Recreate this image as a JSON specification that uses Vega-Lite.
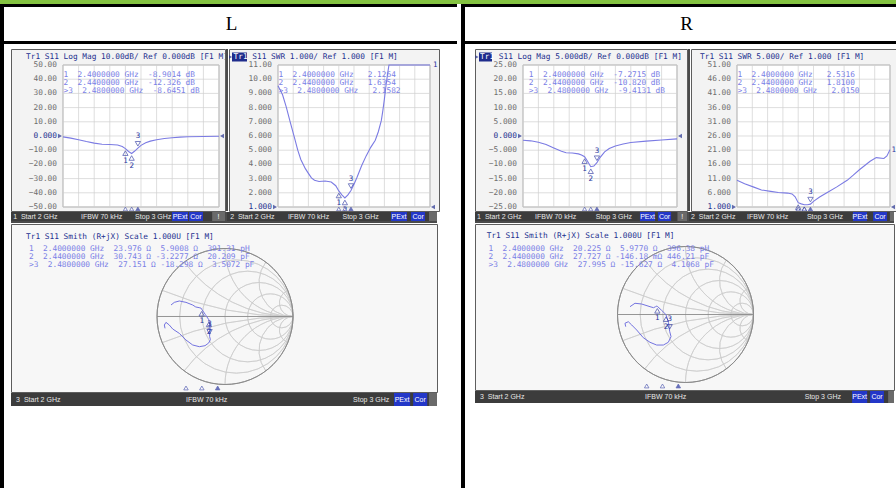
{
"$schema":"https://vega.github.io/schema/vega-lite/v6.json",
"padding":0,
"background":"#ffffff",
"config":{"view":{"stroke":null},"concat":{"spacing":0}},
"datasets":{
"one":[{}],
"fgrid":[{"f":2},{"f":2.1},{"f":2.2},{"f":2.3},{"f":2.4},{"f":2.5},{"f":2.6},{"f":2.7},{"f":2.8},{"f":2.9},{"f":3}],
"gLML":[{"g":-50},{"g":-40},{"g":-30},{"g":-20},{"g":-10},{"g":0},{"g":10},{"g":20},{"g":30},{"g":40},{"g":50}],
"gSWL":[{"g":1},{"g":2},{"g":3},{"g":4},{"g":5},{"g":6},{"g":7},{"g":8},{"g":9},{"g":10},{"g":11}],
"gLMR":[{"g":-25},{"g":-20},{"g":-15},{"g":-10},{"g":-5},{"g":0},{"g":5},{"g":10},{"g":15},{"g":20},{"g":25}],
"gSWR":[{"g":1},{"g":6},{"g":11},{"g":16},{"g":21},{"g":26},{"g":31},{"g":36},{"g":41},{"g":46},{"g":51}],
"lmL":[{"f":2.00,"v":-0.6},{"f":2.05,"v":-1.5},{"f":2.10,"v":-2.6},{"f":2.15,"v":-3.9},{"f":2.20,"v":-5.0},{"f":2.25,"v":-5.8},{"f":2.30,"v":-6.0},{"f":2.35,"v":-6.3},{"f":2.38,"v":-7.4},{"f":2.40,"v":-8.9},{"f":2.42,"v":-10.9},{"f":2.44,"v":-12.3},{"f":2.46,"v":-10.6},{"f":2.48,"v":-8.6},{"f":2.50,"v":-6.6},{"f":2.53,"v":-4.8},{"f":2.56,"v":-3.6},{"f":2.60,"v":-2.6},{"f":2.65,"v":-1.8},{"f":2.70,"v":-1.2},{"f":2.75,"v":-0.8},{"f":2.80,"v":-0.5},{"f":2.90,"v":-0.3},{"f":3.00,"v":-0.2}],
"lmLm":[{"m":1,"f":2.40,"v":-8.9014},{"m":2,"f":2.44,"v":-12.326},{"m":3,"f":2.48,"v":-8.6451}],
"swL":[{"f":2.00,"v":9.53},{"f":2.03,"v":8.9},{"f":2.055,"v":8.02},{"f":2.08,"v":7.0},{"f":2.11,"v":5.82},{"f":2.13,"v":5.0},{"f":2.15,"v":4.35},{"f":2.18,"v":3.7},{"f":2.20,"v":3.37},{"f":2.22,"v":3.05},{"f":2.24,"v":2.88},{"f":2.27,"v":2.8},{"f":2.31,"v":2.83},{"f":2.35,"v":2.76},{"f":2.38,"v":2.5},{"f":2.40,"v":2.13},{"f":2.42,"v":1.85},{"f":2.44,"v":1.64},{"f":2.46,"v":1.85},{"f":2.48,"v":2.16},{"f":2.50,"v":2.6},{"f":2.52,"v":3.1},{"f":2.55,"v":3.9},{"f":2.58,"v":4.6},{"f":2.61,"v":5.2},{"f":2.64,"v":5.7},{"f":2.66,"v":6.3},{"f":2.68,"v":7.1},{"f":2.69,"v":7.8},{"f":2.70,"v":8.6},{"f":2.71,"v":9.5},{"f":2.72,"v":10.3},{"f":2.73,"v":11.0},{"f":2.85,"v":11.0},{"f":3.00,"v":11.0}],
"swLm":[{"m":1,"f":2.40,"v":2.1264},{"m":2,"f":2.44,"v":1.6354},{"m":3,"f":2.48,"v":2.1582}],
"lmR":[{"f":2.00,"v":-1.5},{"f":2.05,"v":-1.7},{"f":2.10,"v":-2.2},{"f":2.15,"v":-3.0},{"f":2.20,"v":-4.2},{"f":2.25,"v":-5.4},{"f":2.28,"v":-5.9},{"f":2.32,"v":-6.0},{"f":2.36,"v":-6.3},{"f":2.38,"v":-6.7},{"f":2.40,"v":-7.3},{"f":2.42,"v":-9.0},{"f":2.44,"v":-10.8},{"f":2.46,"v":-10.6},{"f":2.48,"v":-9.4},{"f":2.50,"v":-7.6},{"f":2.53,"v":-5.6},{"f":2.56,"v":-4.4},{"f":2.60,"v":-3.5},{"f":2.65,"v":-2.8},{"f":2.70,"v":-2.3},{"f":2.80,"v":-1.8},{"f":2.90,"v":-1.4},{"f":3.00,"v":-1.0}],
"lmRm":[{"m":1,"f":2.40,"v":-7.2715},{"m":2,"f":2.44,"v":-10.82},{"m":3,"f":2.48,"v":-9.4131}],
"swR":[{"f":2.00,"v":10.4},{"f":2.05,"v":9.2},{"f":2.11,"v":8.0},{"f":2.16,"v":7.0},{"f":2.22,"v":6.5},{"f":2.27,"v":6.1},{"f":2.33,"v":5.9},{"f":2.36,"v":5.6},{"f":2.38,"v":4.6},{"f":2.40,"v":2.53},{"f":2.42,"v":2.1},{"f":2.44,"v":1.81},{"f":2.46,"v":1.8},{"f":2.48,"v":2.015},{"f":2.50,"v":3.0},{"f":2.54,"v":4.5},{"f":2.59,"v":6.1},{"f":2.65,"v":8.0},{"f":2.72,"v":10.4},{"f":2.76,"v":12.2},{"f":2.80,"v":14.1},{"f":2.87,"v":17.1},{"f":2.91,"v":18.4},{"f":2.96,"v":18.1},{"f":2.98,"v":19.0},{"f":3.00,"v":21.2}],
"swRm":[{"m":1,"f":2.40,"v":2.5316},{"m":2,"f":2.44,"v":1.81},{"m":3,"f":2.48,"v":2.015}],
"smL":[{"f":2.00,"re":-0.794,"im":0.169},{"f":2.05,"re":-0.745,"im":0.208},{"f":2.10,"re":-0.672,"im":0.228},{"f":2.15,"re":-0.574,"im":0.208},{"f":2.22,"re":-0.475,"im":0.169},{"f":2.28,"re":-0.43,"im":0.14},{"f":2.34,"re":-0.38,"im":0.13},{"f":2.38,"re":-0.355,"im":0.125},{"f":2.40,"re":-0.343,"im":0.107},{"f":2.42,"re":-0.29,"im":0.03},{"f":2.44,"re":-0.237,"im":-0.049},{"f":2.46,"re":-0.22,"im":-0.17},{"f":2.48,"re":-0.227,"im":-0.291},{"f":2.52,"re":-0.215,"im":-0.34},{"f":2.56,"re":-0.24,"im":-0.39},{"f":2.60,"re":-0.294,"im":-0.429},{"f":2.65,"re":-0.377,"im":-0.444},{"f":2.70,"re":-0.475,"im":-0.419},{"f":2.76,"re":-0.574,"im":-0.346},{"f":2.82,"re":-0.672,"im":-0.248},{"f":2.88,"re":-0.769,"im":-0.184},{"f":2.92,"re":-0.819,"im":-0.125},{"f":2.95,"re":-0.868,"im":-0.086},{"f":2.98,"re":-0.892,"im":-0.125},{"f":3.00,"re":-0.882,"im":-0.174}],
"smLm":[{"m":1,"f":2.40,"re":-0.3433,"im":0.1071},{"m":2,"f":2.44,"re":-0.2365,"im":-0.0494},{"m":3,"f":2.48,"re":-0.2271,"im":-0.291}],
"smR":[{"f":2.00,"re":-0.816,"im":0.115},{"f":2.05,"re":-0.743,"im":0.165},{"f":2.10,"re":-0.644,"im":0.154},{"f":2.18,"re":-0.522,"im":0.115},{"f":2.26,"re":-0.47,"im":0.1},{"f":2.34,"re":-0.44,"im":0.115},{"f":2.38,"re":-0.42,"im":0.125},{"f":2.40,"re":-0.414,"im":0.12},{"f":2.42,"re":-0.35,"im":0.06},{"f":2.44,"re":-0.287,"im":-0.002},{"f":2.46,"re":-0.25,"im":-0.12},{"f":2.48,"re":-0.233,"im":-0.247},{"f":2.52,"re":-0.213,"im":-0.326},{"f":2.56,"re":-0.253,"im":-0.409},{"f":2.60,"re":-0.326,"im":-0.449},{"f":2.66,"re":-0.424,"im":-0.449},{"f":2.72,"re":-0.522,"im":-0.409},{"f":2.78,"re":-0.621,"im":-0.341},{"f":2.84,"re":-0.718,"im":-0.228},{"f":2.90,"re":-0.791,"im":-0.154},{"f":2.94,"re":-0.841,"im":-0.106},{"f":2.97,"re":-0.89,"im":-0.129},{"f":3.00,"re":-0.879,"im":-0.179}],
"smRm":[{"m":1,"f":2.40,"re":-0.4138,"im":0.1203},{"m":2,"f":2.44,"re":-0.2866,"im":-0.0024},{"m":3,"f":2.48,"re":-0.2327,"im":-0.247}],
"smithGrid":[{"cx":0,"cy":0,"R":1,"t0":0,"t1":6.2832},{"cx":0.16667,"cy":0,"R":0.83333,"t0":0,"t1":6.2832},{"cx":0.33333,"cy":0,"R":0.66667,"t0":0,"t1":6.2832},{"cx":0.5,"cy":0,"R":0.5,"t0":0,"t1":6.2832},{"cx":0.66667,"cy":0,"R":0.33333,"t0":0,"t1":6.2832},{"cx":0.83333,"cy":0,"R":0.16667,"t0":0,"t1":6.2832},{"cx":1,"cy":5,"R":5,"t0":3.14159,"t1":3.53638},{"cx":1,"cy":2,"R":2,"t0":3.14159,"t1":4.06889},{"cx":1,"cy":1,"R":1,"t0":3.14159,"t1":4.71239},{"cx":1,"cy":0.5,"R":0.5,"t0":3.14159,"t1":5.35589},{"cx":1,"cy":0.2,"R":0.2,"t0":3.14159,"t1":5.88839},{"cx":1,"cy":-5,"R":5,"t0":5.8884,"t1":6.28319},{"cx":1,"cy":-2,"R":2,"t0":5.35589,"t1":6.28319},{"cx":1,"cy":-1,"R":1,"t0":4.71239,"t1":6.28319},{"cx":1,"cy":-0.5,"R":0.5,"t0":4.06889,"t1":6.28319},{"cx":1,"cy":-0.2,"R":0.2,"t0":3.53638,"t1":6.28319}]
},
"spacing":0,
"vconcat":[
{"width":896,"height":4,"view":{"fill":"#84c341"},"data":{"name":"one"},"mark":{"type":"rect","color":"#84c341"}},
{"spacing":0,"hconcat":[
{"width":4,"height":484,"view":{"fill":"#000000"},"data":{"name":"one"},"mark":{"type":"rect","color":"#000000"}},
{"spacing":0,"vconcat":[
{"width":453,"height":3,"view":{"fill":"#000000"},"data":{"name":"one"},"mark":{"type":"rect","color":"#000000"}},
{"width":453,"height":34,"data":{"name":"one"},"mark":{"type":"text","text":"L","font":"Liberation Serif","fontSize":19,"color":"#000000","dx":1}},
{"width":453,"height":3,"view":{"fill":"#000000"},"data":{"name":"one"},"mark":{"type":"rect","color":"#000000"}},
{"width":453,"height":4,"data":{"name":"one"},"mark":{"type":"rect","opacity":0}},
{"spacing":0,"hconcat":[
{"width":6,"height":1,"data":{"name":"one"},"mark":{"type":"rect","opacity":0}},
{"spacing":0,"vconcat":[
{"spacing":0,"hconcat":[
{"width":214,"height":162,"view":{"fill":"#f3f3f3","stroke":"#5e5e5e","strokeWidth":1},
"layer":[
{"data":{"name":"one"},"mark":{"type":"rect","fill":"#ffffff","stroke":"#9c9c9c","strokeWidth":0.8},"encoding":{"x":{"datum":2,"type":"quantitative","scale":{"domain":[1.66667,3.03846],"nice":false,"zero":false},"axis":null},"x2":{"datum":3},"y":{"datum":-50,"type":"quantitative","scale":{"domain":[-52.817,61.268],"nice":false,"zero":false},"axis":null},"y2":{"datum":50}}},
{"data":{"name":"fgrid"},"mark":{"type":"rule","color":"#d0d0d0","strokeWidth":0.7},"encoding":{"x":{"field":"f","type":"quantitative","scale":{"domain":[1.66667,3.03846],"nice":false,"zero":false},"axis":null},"y":{"datum":-50,"type":"quantitative","scale":{"domain":[-52.817,61.268],"nice":false,"zero":false},"axis":null},"y2":{"datum":50}}},
{"data":{"name":"gLML"},"mark":{"type":"rule","color":"#d0d0d0","strokeWidth":0.7},"encoding":{"y":{"field":"g","type":"quantitative","scale":{"domain":[-52.817,61.268],"nice":false,"zero":false},"axis":null},"x":{"datum":2,"type":"quantitative","scale":{"domain":[1.66667,3.03846],"nice":false,"zero":false},"axis":null},"x2":{"datum":3}}},
{"data":{"name":"gLML"},"mark":{"type":"text","align":"right","baseline":"middle","dx":-6,"font":"DejaVu Sans Mono","fontSize":7.8},"encoding":{"y":{"field":"g","type":"quantitative","scale":{"domain":[-52.817,61.268],"nice":false,"zero":false},"axis":null},"x":{"datum":2,"type":"quantitative","scale":{"domain":[1.66667,3.03846],"nice":false,"zero":false},"axis":null},"text":{"condition":{"test":"datum.g == 0","value":"0.000"},"field":"g","type":"quantitative","format":".4r"},"color":{"condition":{"test":"datum.g == 0","value":"#24308f"},"value":"#6e6e6e"}}},
{"data":{"name":"lmL"},"mark":{"type":"line","color":"#7b7be3","strokeWidth":1.1,"clip":true},"encoding":{"x":{"field":"f","type":"quantitative","scale":{"domain":[1.66667,3.03846],"nice":false,"zero":false},"axis":null},"y":{"field":"v","type":"quantitative","scale":{"domain":[-52.817,61.268],"nice":false,"zero":false},"axis":null}}},
{"data":{"name":"lmLm"},"transform":[{"filter":"datum.m < 3"}],"mark":{"type":"point","shape":"triangle-up","filled":false,"color":"#2a36a0","size":28,"strokeWidth":0.9,"yOffset":4.5,"clip":true},"encoding":{"x":{"field":"f","type":"quantitative","scale":{"domain":[1.66667,3.03846],"nice":false,"zero":false},"axis":null},"y":{"field":"v","type":"quantitative","scale":{"domain":[-52.817,61.268],"nice":false,"zero":false},"axis":null}}},
{"data":{"name":"lmLm"},"transform":[{"filter":"datum.m < 3"}],"mark":{"type":"text","font":"DejaVu Sans Mono","fontSize":7.5,"color":"#2a36a0","dy":12,"clip":true},"encoding":{"x":{"field":"f","type":"quantitative","scale":{"domain":[1.66667,3.03846],"nice":false,"zero":false},"axis":null},"y":{"field":"v","type":"quantitative","scale":{"domain":[-52.817,61.268],"nice":false,"zero":false},"axis":null},"text":{"field":"m","type":"nominal"}}},
{"data":{"name":"lmLm"},"transform":[{"filter":"datum.m == 3"}],"mark":{"type":"point","shape":"triangle-down","filled":false,"color":"#2a36a0","size":28,"strokeWidth":0.9,"yOffset":-4.5,"clip":true},"encoding":{"x":{"field":"f","type":"quantitative","scale":{"domain":[1.66667,3.03846],"nice":false,"zero":false},"axis":null},"y":{"field":"v","type":"quantitative","scale":{"domain":[-52.817,61.268],"nice":false,"zero":false},"axis":null}}},
{"data":{"name":"lmLm"},"transform":[{"filter":"datum.m == 3"}],"mark":{"type":"text","font":"DejaVu Sans Mono","fontSize":7.5,"color":"#2a36a0","dy":-12,"clip":true},"encoding":{"x":{"field":"f","type":"quantitative","scale":{"domain":[1.66667,3.03846],"nice":false,"zero":false},"axis":null},"y":{"field":"v","type":"quantitative","scale":{"domain":[-52.817,61.268],"nice":false,"zero":false},"axis":null},"text":{"field":"m","type":"nominal"}}},
{"data":{"name":"lmLm"},"mark":{"type":"point","shape":"triangle-up","size":18,"stroke":"#2a36a0","strokeWidth":0.8,"filled":true,"clip":true},"encoding":{"x":{"field":"f","type":"quantitative","scale":{"domain":[1.66667,3.03846],"nice":false,"zero":false},"axis":null},"y":{"datum":-51.408,"type":"quantitative","scale":{"domain":[-52.817,61.268],"nice":false,"zero":false},"axis":null},"fill":{"condition":{"test":"datum.m == 3","value":"#2a36a0"},"value":"#ffffff"}}},
{"data":{"name":"one"},"mark":{"type":"point","shape":"triangle-right","filled":true,"color":"#24308f","size":22,"xOffset":-3,"clip":true},"encoding":{"x":{"datum":2,"type":"quantitative","scale":{"domain":[1.66667,3.03846],"nice":false,"zero":false},"axis":null},"y":{"datum":0,"type":"quantitative","scale":{"domain":[-52.817,61.268],"nice":false,"zero":false},"axis":null}}},
{"data":{"name":"one"},"mark":{"type":"point","shape":"triangle-left","filled":true,"color":"#24308f","size":22,"xOffset":3,"clip":true},"encoding":{"x":{"datum":3,"type":"quantitative","scale":{"domain":[1.66667,3.03846],"nice":false,"zero":false},"axis":null},"y":{"datum":0,"type":"quantitative","scale":{"domain":[-52.817,61.268],"nice":false,"zero":false},"axis":null}}},
{"data":{"name":"one"},"mark":{"type":"text","text":"Tr1 S11 Log Mag 10.00dB/ Ref 0.000dB [F1 M]","align":"left","baseline":"middle","font":"DejaVu Sans Mono","fontSize":7.8,"color":"#24308f","clip":true},"encoding":{"x":{"datum":1.7628,"type":"quantitative","scale":{"domain":[1.66667,3.03846],"nice":false,"zero":false},"axis":null},"y":{"datum":55.634,"type":"quantitative","scale":{"domain":[-52.817,61.268],"nice":false,"zero":false},"axis":null}}},
{"data":{"name":"one"},"mark":{"type":"text","text":["\u00a01\u00a0\u00a02.4000000\u00a0GHz\u00a0\u00a0-8.9014\u00a0dB","\u00a02\u00a0\u00a02.4400000\u00a0GHz\u00a0\u00a0-12.326\u00a0dB",">3\u00a0\u00a02.4800000\u00a0GHz\u00a0\u00a0-8.6451\u00a0dB"],"align":"left","baseline":"top","lineHeight":8,"font":"DejaVu Sans Mono","fontSize":7.8,"color":"#7a80e6","clip":true},"encoding":{"x":{"datum":2.003,"type":"quantitative","scale":{"domain":[1.66667,3.03846],"nice":false,"zero":false},"axis":null},"y":{"datum":46.127,"type":"quantitative","scale":{"domain":[-52.817,61.268],"nice":false,"zero":false},"axis":null}}}
]},
{"width":2,"height":162,"view":{"fill":"#4a4a4a"},"data":{"name":"one"},"mark":{"type":"rect","color":"#4a4a4a"}},
{"width":210,"height":162,"view":{"fill":"#f3f3f3","stroke":"#5e5e5e","strokeWidth":1},
"layer":[
{"data":{"name":"one"},"mark":{"type":"rect","fill":"#ffffff","stroke":"#9c9c9c","strokeWidth":0.8},"encoding":{"x":{"datum":2,"type":"quantitative","scale":{"domain":[1.67763,3.05921],"nice":false,"zero":false},"axis":null},"x2":{"datum":3},"y":{"datum":1,"type":"quantitative","scale":{"domain":[0.71831,12.1268],"nice":false,"zero":false},"axis":null},"y2":{"datum":11}}},
{"data":{"name":"fgrid"},"mark":{"type":"rule","color":"#d0d0d0","strokeWidth":0.7},"encoding":{"x":{"field":"f","type":"quantitative","scale":{"domain":[1.67763,3.05921],"nice":false,"zero":false},"axis":null},"y":{"datum":1,"type":"quantitative","scale":{"domain":[0.71831,12.1268],"nice":false,"zero":false},"axis":null},"y2":{"datum":11}}},
{"data":{"name":"gSWL"},"mark":{"type":"rule","color":"#d0d0d0","strokeWidth":0.7},"encoding":{"y":{"field":"g","type":"quantitative","scale":{"domain":[0.71831,12.1268],"nice":false,"zero":false},"axis":null},"x":{"datum":2,"type":"quantitative","scale":{"domain":[1.67763,3.05921],"nice":false,"zero":false},"axis":null},"x2":{"datum":3}}},
{"data":{"name":"gSWL"},"mark":{"type":"text","align":"right","baseline":"middle","dx":-6,"font":"DejaVu Sans Mono","fontSize":7.8},"encoding":{"y":{"field":"g","type":"quantitative","scale":{"domain":[0.71831,12.1268],"nice":false,"zero":false},"axis":null},"x":{"datum":2,"type":"quantitative","scale":{"domain":[1.67763,3.05921],"nice":false,"zero":false},"axis":null},"text":{"field":"g","type":"quantitative","format":".4r"},"color":{"condition":{"test":"datum.g == 1","value":"#24308f"},"value":"#6e6e6e"}}},
{"data":{"name":"swL"},"mark":{"type":"line","color":"#7b7be3","strokeWidth":1.1,"clip":true},"encoding":{"x":{"field":"f","type":"quantitative","scale":{"domain":[1.67763,3.05921],"nice":false,"zero":false},"axis":null},"y":{"field":"v","type":"quantitative","scale":{"domain":[0.71831,12.1268],"nice":false,"zero":false},"axis":null}}},
{"data":{"name":"swLm"},"transform":[{"filter":"datum.m < 3"}],"mark":{"type":"point","shape":"triangle-up","filled":false,"color":"#2a36a0","size":28,"strokeWidth":0.9,"yOffset":4.5,"clip":true},"encoding":{"x":{"field":"f","type":"quantitative","scale":{"domain":[1.67763,3.05921],"nice":false,"zero":false},"axis":null},"y":{"field":"v","type":"quantitative","scale":{"domain":[0.71831,12.1268],"nice":false,"zero":false},"axis":null}}},
{"data":{"name":"swLm"},"transform":[{"filter":"datum.m < 3"}],"mark":{"type":"text","font":"DejaVu Sans Mono","fontSize":7.5,"color":"#2a36a0","dy":12,"clip":true},"encoding":{"x":{"field":"f","type":"quantitative","scale":{"domain":[1.67763,3.05921],"nice":false,"zero":false},"axis":null},"y":{"field":"v","type":"quantitative","scale":{"domain":[0.71831,12.1268],"nice":false,"zero":false},"axis":null},"text":{"field":"m","type":"nominal"}}},
{"data":{"name":"swLm"},"transform":[{"filter":"datum.m == 3"}],"mark":{"type":"point","shape":"triangle-down","filled":false,"color":"#2a36a0","size":28,"strokeWidth":0.9,"yOffset":-4.5,"clip":true},"encoding":{"x":{"field":"f","type":"quantitative","scale":{"domain":[1.67763,3.05921],"nice":false,"zero":false},"axis":null},"y":{"field":"v","type":"quantitative","scale":{"domain":[0.71831,12.1268],"nice":false,"zero":false},"axis":null}}},
{"data":{"name":"swLm"},"transform":[{"filter":"datum.m == 3"}],"mark":{"type":"text","font":"DejaVu Sans Mono","fontSize":7.5,"color":"#2a36a0","dy":-12,"clip":true},"encoding":{"x":{"field":"f","type":"quantitative","scale":{"domain":[1.67763,3.05921],"nice":false,"zero":false},"axis":null},"y":{"field":"v","type":"quantitative","scale":{"domain":[0.71831,12.1268],"nice":false,"zero":false},"axis":null},"text":{"field":"m","type":"nominal"}}},
{"data":{"name":"swLm"},"mark":{"type":"point","shape":"triangle-up","size":18,"stroke":"#2a36a0","strokeWidth":0.8,"filled":true,"clip":true},"encoding":{"x":{"field":"f","type":"quantitative","scale":{"domain":[1.67763,3.05921],"nice":false,"zero":false},"axis":null},"y":{"datum":0.8592,"type":"quantitative","scale":{"domain":[0.71831,12.1268],"nice":false,"zero":false},"axis":null},"fill":{"condition":{"test":"datum.m == 3","value":"#2a36a0"},"value":"#ffffff"}}},
{"data":{"name":"one"},"mark":{"type":"point","shape":"triangle-right","filled":true,"color":"#24308f","size":22,"xOffset":-3,"clip":true},"encoding":{"x":{"datum":2,"type":"quantitative","scale":{"domain":[1.67763,3.05921],"nice":false,"zero":false},"axis":null},"y":{"datum":1,"type":"quantitative","scale":{"domain":[0.71831,12.1268],"nice":false,"zero":false},"axis":null}}},
{"data":{"name":"one"},"mark":{"type":"point","shape":"triangle-left","filled":true,"color":"#24308f","size":22,"xOffset":3,"clip":true},"encoding":{"x":{"datum":3,"type":"quantitative","scale":{"domain":[1.67763,3.05921],"nice":false,"zero":false},"axis":null},"y":{"datum":1,"type":"quantitative","scale":{"domain":[0.71831,12.1268],"nice":false,"zero":false},"axis":null}}},
{"data":{"name":"one"},"mark":{"type":"text","text":"1","align":"left","baseline":"middle","font":"DejaVu Sans Mono","fontSize":7.5,"color":"#2a36a0","dx":3,"clip":true},"encoding":{"x":{"datum":3,"type":"quantitative","scale":{"domain":[1.67763,3.05921],"nice":false,"zero":false},"axis":null},"y":{"datum":11,"type":"quantitative","scale":{"domain":[0.71831,12.1268],"nice":false,"zero":false},"axis":null}}},
{"data":{"name":"one"},"mark":{"type":"rect","color":"#1f2c8c"},"encoding":{"x":{"datum":1.69737,"type":"quantitative","scale":{"domain":[1.67763,3.05921],"nice":false,"zero":false},"axis":null},"x2":{"datum":1.79605},"y":{"datum":11.2465,"type":"quantitative","scale":{"domain":[0.71831,12.1268],"nice":false,"zero":false},"axis":null},"y2":{"datum":11.8803}}},
{"data":{"name":"one"},"mark":{"type":"point","shape":"triangle-right","filled":true,"color":"#1f2c8c","size":14,"clip":true},"encoding":{"x":{"datum":1.6875,"type":"quantitative","scale":{"domain":[1.67763,3.05921],"nice":false,"zero":false},"axis":null},"y":{"datum":11.5634,"type":"quantitative","scale":{"domain":[0.71831,12.1268],"nice":false,"zero":false},"axis":null}}},
{"data":{"name":"one"},"mark":{"type":"text","text":"Tr1","align":"left","baseline":"middle","font":"DejaVu Sans Mono","fontSize":7.8,"color":"#ffffff","clip":true},"encoding":{"x":{"datum":1.70724,"type":"quantitative","scale":{"domain":[1.67763,3.05921],"nice":false,"zero":false},"axis":null},"y":{"datum":11.5634,"type":"quantitative","scale":{"domain":[0.71831,12.1268],"nice":false,"zero":false},"axis":null}}},
{"data":{"name":"one"},"mark":{"type":"text","text":"S11 SWR 1.000/ Ref 1.000 [F1 M]","align":"left","baseline":"middle","font":"DejaVu Sans Mono","fontSize":7.8,"color":"#24308f","clip":true},"encoding":{"x":{"datum":1.83092,"type":"quantitative","scale":{"domain":[1.67763,3.05921],"nice":false,"zero":false},"axis":null},"y":{"datum":11.5634,"type":"quantitative","scale":{"domain":[0.71831,12.1268],"nice":false,"zero":false},"axis":null}}},
{"data":{"name":"one"},"mark":{"type":"text","text":["\u00a01\u00a0\u00a02.4000000\u00a0GHz\u00a0\u00a0\u00a02.1264","\u00a02\u00a0\u00a02.4400000\u00a0GHz\u00a0\u00a0\u00a01.6354",">3\u00a0\u00a02.4800000\u00a0GHz\u00a0\u00a0\u00a02.1582"],"align":"left","baseline":"top","lineHeight":8,"font":"DejaVu Sans Mono","fontSize":7.8,"color":"#7a80e6","clip":true},"encoding":{"x":{"datum":2.0033,"type":"quantitative","scale":{"domain":[1.67763,3.05921],"nice":false,"zero":false},"axis":null},"y":{"datum":10.6127,"type":"quantitative","scale":{"domain":[0.71831,12.1268],"nice":false,"zero":false},"axis":null}}}
]}
]},
{"spacing":0,"hconcat":[
{"width":214,"height":9,"view":{"fill":"#3c3c3c"},"data":{"name":"one"},"layer":[
{"mark":{"type":"rect","color":"#2337c8"},"encoding":{"x":{"datum":0.752,"type":"quantitative","scale":{"domain":[0,1],"nice":false,"zero":false},"axis":null},"x2":{"datum":0.827}}},
{"mark":{"type":"rect","color":"#2337c8"},"encoding":{"x":{"datum":0.832,"type":"quantitative","scale":{"domain":[0,1],"nice":false,"zero":false},"axis":null},"x2":{"datum":0.897}}},
{"mark":{"type":"rect","color":"#6a6a6a"},"encoding":{"x":{"datum":0.94,"type":"quantitative","scale":{"domain":[0,1],"nice":false,"zero":false},"axis":null},"x2":{"datum":1}}},
{"mark":{"type":"text","text":"1\u00a0\u00a0Start 2 GHz","align":"left","font":"Liberation Sans","fontSize":7,"color":"#e8e8e8"},"encoding":{"x":{"datum":0.01,"type":"quantitative","scale":{"domain":[0,1],"nice":false,"zero":false},"axis":null}}},
{"mark":{"type":"text","text":"IFBW 70 kHz","align":"left","font":"Liberation Sans","fontSize":7,"color":"#e8e8e8"},"encoding":{"x":{"datum":0.327,"type":"quantitative","scale":{"domain":[0,1],"nice":false,"zero":false},"axis":null}}},
{"mark":{"type":"text","text":"Stop 3 GHz","align":"left","font":"Liberation Sans","fontSize":7,"color":"#e8e8e8"},"encoding":{"x":{"datum":0.58,"type":"quantitative","scale":{"domain":[0,1],"nice":false,"zero":false},"axis":null}}},
{"mark":{"type":"text","text":"PExt","align":"center","font":"Liberation Sans","fontSize":7,"color":"#ffffff"},"encoding":{"x":{"datum":0.79,"type":"quantitative","scale":{"domain":[0,1],"nice":false,"zero":false},"axis":null}}},
{"mark":{"type":"text","text":"Cor","align":"center","font":"Liberation Sans","fontSize":7,"color":"#ffffff"},"encoding":{"x":{"datum":0.864,"type":"quantitative","scale":{"domain":[0,1],"nice":false,"zero":false},"axis":null}}},
{"mark":{"type":"text","text":"!","align":"center","font":"Liberation Sans","fontSize":7,"color":"#ffffff"},"encoding":{"x":{"datum":0.97,"type":"quantitative","scale":{"domain":[0,1],"nice":false,"zero":false},"axis":null}}}
]},
{"width":2,"height":9,"view":{"fill":"#4a4a4a"},"data":{"name":"one"},"mark":{"type":"rect","color":"#4a4a4a"}},
{"width":210,"height":9,"view":{"fill":"#3c3c3c"},"data":{"name":"one"},"layer":[
{"mark":{"type":"rect","color":"#2337c8"},"encoding":{"x":{"datum":0.781,"type":"quantitative","scale":{"domain":[0,1],"nice":false,"zero":false},"axis":null},"x2":{"datum":0.857}}},
{"mark":{"type":"rect","color":"#2337c8"},"encoding":{"x":{"datum":0.876,"type":"quantitative","scale":{"domain":[0,1],"nice":false,"zero":false},"axis":null},"x2":{"datum":0.943}}},
{"mark":{"type":"rect","color":"#6a6a6a"},"encoding":{"x":{"datum":0.962,"type":"quantitative","scale":{"domain":[0,1],"nice":false,"zero":false},"axis":null},"x2":{"datum":1}}},
{"mark":{"type":"text","text":"2\u00a0\u00a0Start 2 GHz","align":"left","font":"Liberation Sans","fontSize":7,"color":"#e8e8e8"},"encoding":{"x":{"datum":0.015,"type":"quantitative","scale":{"domain":[0,1],"nice":false,"zero":false},"axis":null}}},
{"mark":{"type":"text","text":"IFBW 70 kHz","align":"left","font":"Liberation Sans","fontSize":7,"color":"#e8e8e8"},"encoding":{"x":{"datum":0.29,"type":"quantitative","scale":{"domain":[0,1],"nice":false,"zero":false},"axis":null}}},
{"mark":{"type":"text","text":"Stop 3 GHz","align":"left","font":"Liberation Sans","fontSize":7,"color":"#e8e8e8"},"encoding":{"x":{"datum":0.55,"type":"quantitative","scale":{"domain":[0,1],"nice":false,"zero":false},"axis":null}}},
{"mark":{"type":"text","text":"PExt","align":"center","font":"Liberation Sans","fontSize":7,"color":"#ffffff"},"encoding":{"x":{"datum":0.819,"type":"quantitative","scale":{"domain":[0,1],"nice":false,"zero":false},"axis":null}}},
{"mark":{"type":"text","text":"Cor","align":"center","font":"Liberation Sans","fontSize":7,"color":"#ffffff"},"encoding":{"x":{"datum":0.91,"type":"quantitative","scale":{"domain":[0,1],"nice":false,"zero":false},"axis":null}}}
]}
]},
{"width":426,"height":2,"view":{"fill":"#4a4a4a"},"data":{"name":"one"},"mark":{"type":"rect","color":"#4a4a4a"}},
{"width":426,"height":168,"view":{"fill":"#f7f7f7","stroke":"#5e5e5e","strokeWidth":1},
"resolve":{"scale":{"x":"independent"}},
"layer":[
{"data":{"name":"smithGrid"},"transform":[{"filter":"datum.cx != 0"}],"mark":{"type":"arc","filled":false,"stroke":"#cbcbcb","strokeWidth":0.7,"clip":true},"encoding":{"x":{"field":"cx","type":"quantitative","scale":{"domain":[-3.1471,3.1176],"nice":false,"zero":false},"axis":null},"y":{"field":"cy","type":"quantitative","scale":{"domain":[-1.1103,1.3603],"nice":false,"zero":false},"axis":null},"theta":{"field":"t0","type":"quantitative","scale":null,"stack":null},"theta2":{"field":"t1"},"radius":{"field":"R","type":"quantitative","scale":{"type":"linear","domain":[0,1],"range":[0,68],"zero":true}},"radius2":{"field":"R"}}},
{"data":{"name":"smithGrid"},"transform":[{"filter":"datum.cx == 0"}],"mark":{"type":"arc","filled":false,"stroke":"#8a8a8a","strokeWidth":0.9,"clip":true},"encoding":{"x":{"field":"cx","type":"quantitative","scale":{"domain":[-3.1471,3.1176],"nice":false,"zero":false},"axis":null},"y":{"field":"cy","type":"quantitative","scale":{"domain":[-1.1103,1.3603],"nice":false,"zero":false},"axis":null},"theta":{"field":"t0","type":"quantitative","scale":null,"stack":null},"theta2":{"field":"t1"},"radius":{"field":"R","type":"quantitative","scale":{"type":"linear","domain":[0,1],"range":[0,68],"zero":true}},"radius2":{"field":"R"}}},
{"data":{"name":"one"},"mark":{"type":"rule","color":"#8a8a8a","strokeWidth":0.9},"encoding":{"x":{"datum":-1,"type":"quantitative","scale":{"domain":[-3.1471,3.1176],"nice":false,"zero":false},"axis":null},"x2":{"datum":1},"y":{"datum":0,"type":"quantitative","scale":{"domain":[-1.1103,1.3603],"nice":false,"zero":false},"axis":null}}},
{"data":{"name":"smL"},"mark":{"type":"line","color":"#7373e0","strokeWidth":1,"clip":true},"encoding":{"x":{"field":"re","type":"quantitative","scale":{"domain":[-3.1471,3.1176],"nice":false,"zero":false},"axis":null},"y":{"field":"im","type":"quantitative","scale":{"domain":[-1.1103,1.3603],"nice":false,"zero":false},"axis":null},"order":{"field":"f","type":"quantitative"}}},
{"data":{"name":"smLm"},"transform":[{"filter":"datum.m < 3"}],"mark":{"type":"point","shape":"triangle-up","filled":false,"color":"#2a36a0","size":28,"strokeWidth":0.9,"yOffset":4.5,"clip":true},"encoding":{"x":{"field":"re","type":"quantitative","scale":{"domain":[-3.1471,3.1176],"nice":false,"zero":false},"axis":null},"y":{"field":"im","type":"quantitative","scale":{"domain":[-1.1103,1.3603],"nice":false,"zero":false},"axis":null}}},
{"data":{"name":"smLm"},"transform":[{"filter":"datum.m < 3"}],"mark":{"type":"text","font":"DejaVu Sans Mono","fontSize":7.5,"color":"#2a36a0","dy":12,"clip":true},"encoding":{"x":{"field":"re","type":"quantitative","scale":{"domain":[-3.1471,3.1176],"nice":false,"zero":false},"axis":null},"y":{"field":"im","type":"quantitative","scale":{"domain":[-1.1103,1.3603],"nice":false,"zero":false},"axis":null},"text":{"field":"m","type":"nominal"}}},
{"data":{"name":"smLm"},"transform":[{"filter":"datum.m == 3"}],"mark":{"type":"point","shape":"triangle-down","filled":false,"color":"#2a36a0","size":28,"strokeWidth":0.9,"yOffset":-4.5,"clip":true},"encoding":{"x":{"field":"re","type":"quantitative","scale":{"domain":[-3.1471,3.1176],"nice":false,"zero":false},"axis":null},"y":{"field":"im","type":"quantitative","scale":{"domain":[-1.1103,1.3603],"nice":false,"zero":false},"axis":null}}},
{"data":{"name":"smLm"},"transform":[{"filter":"datum.m == 3"}],"mark":{"type":"text","font":"DejaVu Sans Mono","fontSize":7.5,"color":"#2a36a0","dy":-12,"clip":true},"encoding":{"x":{"field":"re","type":"quantitative","scale":{"domain":[-3.1471,3.1176],"nice":false,"zero":false},"axis":null},"y":{"field":"im","type":"quantitative","scale":{"domain":[-1.1103,1.3603],"nice":false,"zero":false},"axis":null},"text":{"field":"m","type":"nominal"}}},
{"data":{"name":"smLm"},"mark":{"type":"point","shape":"triangle-up","size":20,"stroke":"#2a36a0","strokeWidth":0.8,"filled":true,"clip":true},"encoding":{"x":{"field":"f","type":"quantitative","scale":{"domain":[1.958,3.034],"nice":false,"zero":false},"axis":null},"y":{"datum":-1.051,"type":"quantitative","scale":{"domain":[-1.1103,1.3603],"nice":false,"zero":false},"axis":null},"fill":{"condition":{"test":"datum.m == 3","value":"#2a36a0"},"value":"#ffffff"}}},
{"data":{"name":"one"},"mark":{"type":"text","text":"Tr1 S11 Smith (R+jX) Scale 1.000U [F1 M]","align":"left","baseline":"middle","font":"DejaVu Sans Mono","fontSize":7.8,"color":"#24308f","clip":true},"encoding":{"x":{"datum":-2.9265,"type":"quantitative","scale":{"domain":[-3.1471,3.1176],"nice":false,"zero":false},"axis":null},"y":{"datum":1.176,"type":"quantitative","scale":{"domain":[-1.1103,1.3603],"nice":false,"zero":false},"axis":null}}},
{"data":{"name":"one"},"mark":{"type":"text","text":["\u00a01\u00a0\u00a02.4000000\u00a0GHz\u00a0\u00a023.976\u00a0Ω\u00a0\u00a05.9008\u00a0Ω\u00a0\u00a0391.31\u00a0pH","\u00a02\u00a0\u00a02.4400000\u00a0GHz\u00a0\u00a030.743\u00a0Ω\u00a0-3.2277\u00a0Ω\u00a0\u00a020.209\u00a0pF",">3\u00a0\u00a02.4800000\u00a0GHz\u00a0\u00a027.151\u00a0Ω\u00a0-18.298\u00a0Ω\u00a0\u00a03.5072\u00a0pF"],"align":"left","baseline":"top","lineHeight":8,"font":"DejaVu Sans Mono","fontSize":7.8,"color":"#7a80e6","clip":true},"encoding":{"x":{"datum":-2.8824,"type":"quantitative","scale":{"domain":[-3.1471,3.1176],"nice":false,"zero":false},"axis":null},"y":{"datum":1.0588,"type":"quantitative","scale":{"domain":[-1.1103,1.3603],"nice":false,"zero":false},"axis":null}}}
]},
{"width":426,"height":13,"view":{"fill":"#3c3c3c"},"data":{"name":"one"},"layer":[
{"mark":{"type":"rect","color":"#2337c8"},"encoding":{"x":{"datum":0.899,"type":"quantitative","scale":{"domain":[0,1],"nice":false,"zero":false},"axis":null},"x2":{"datum":0.937}}},
{"mark":{"type":"rect","color":"#2337c8"},"encoding":{"x":{"datum":0.944,"type":"quantitative","scale":{"domain":[0,1],"nice":false,"zero":false},"axis":null},"x2":{"datum":0.977}}},
{"mark":{"type":"rect","color":"#6a6a6a"},"encoding":{"x":{"datum":0.981,"type":"quantitative","scale":{"domain":[0,1],"nice":false,"zero":false},"axis":null},"x2":{"datum":1}}},
{"mark":{"type":"text","text":"3\u00a0\u00a0Start 2 GHz","align":"left","font":"Liberation Sans","fontSize":7,"color":"#e8e8e8"},"encoding":{"x":{"datum":0.012,"type":"quantitative","scale":{"domain":[0,1],"nice":false,"zero":false},"axis":null}}},
{"mark":{"type":"text","text":"IFBW 70 kHz","align":"left","font":"Liberation Sans","fontSize":7,"color":"#e8e8e8"},"encoding":{"x":{"datum":0.411,"type":"quantitative","scale":{"domain":[0,1],"nice":false,"zero":false},"axis":null}}},
{"mark":{"type":"text","text":"Stop 3 GHz","align":"left","font":"Liberation Sans","fontSize":7,"color":"#e8e8e8"},"encoding":{"x":{"datum":0.803,"type":"quantitative","scale":{"domain":[0,1],"nice":false,"zero":false},"axis":null}}},
{"mark":{"type":"text","text":"PExt","align":"center","font":"Liberation Sans","fontSize":7,"color":"#ffffff"},"encoding":{"x":{"datum":0.918,"type":"quantitative","scale":{"domain":[0,1],"nice":false,"zero":false},"axis":null}}},
{"mark":{"type":"text","text":"Cor","align":"center","font":"Liberation Sans","fontSize":7,"color":"#ffffff"},"encoding":{"x":{"datum":0.9605,"type":"quantitative","scale":{"domain":[0,1],"nice":false,"zero":false},"axis":null}}}
]}
]},
{"width":21,"height":1,"data":{"name":"one"},"mark":{"type":"rect","opacity":0}}
]}
]},
{"width":4,"height":484,"view":{"fill":"#000000"},"data":{"name":"one"},"mark":{"type":"rect","color":"#000000"}},
{"spacing":0,"vconcat":[
{"width":435,"height":3,"view":{"fill":"#000000"},"data":{"name":"one"},"mark":{"type":"rect","color":"#000000"}},
{"width":435,"height":34,"data":{"name":"one"},"mark":{"type":"text","text":"R","font":"Liberation Serif","fontSize":19,"color":"#000000","dx":4}},
{"width":435,"height":3,"view":{"fill":"#000000"},"data":{"name":"one"},"mark":{"type":"rect","color":"#000000"}},
{"width":435,"height":4,"data":{"name":"one"},"mark":{"type":"rect","opacity":0}},
{"spacing":0,"hconcat":[
{"width":9,"height":1,"data":{"name":"one"},"mark":{"type":"rect","opacity":0}},
{"spacing":0,"vconcat":[
{"spacing":0,"hconcat":[
{"width":212,"height":162,"view":{"fill":"#f3f3f3","stroke":"#5e5e5e","strokeWidth":1},
"layer":[
{"data":{"name":"one"},"mark":{"type":"rect","fill":"#ffffff","stroke":"#9c9c9c","strokeWidth":0.8},"encoding":{"x":{"datum":2,"type":"quantitative","scale":{"domain":[1.68831,3.06494],"nice":false,"zero":false},"axis":null},"x2":{"datum":3},"y":{"datum":-25,"type":"quantitative","scale":{"domain":[-26.408,30.634],"nice":false,"zero":false},"axis":null},"y2":{"datum":25}}},
{"data":{"name":"fgrid"},"mark":{"type":"rule","color":"#d0d0d0","strokeWidth":0.7},"encoding":{"x":{"field":"f","type":"quantitative","scale":{"domain":[1.68831,3.06494],"nice":false,"zero":false},"axis":null},"y":{"datum":-25,"type":"quantitative","scale":{"domain":[-26.408,30.634],"nice":false,"zero":false},"axis":null},"y2":{"datum":25}}},
{"data":{"name":"gLMR"},"mark":{"type":"rule","color":"#d0d0d0","strokeWidth":0.7},"encoding":{"y":{"field":"g","type":"quantitative","scale":{"domain":[-26.408,30.634],"nice":false,"zero":false},"axis":null},"x":{"datum":2,"type":"quantitative","scale":{"domain":[1.68831,3.06494],"nice":false,"zero":false},"axis":null},"x2":{"datum":3}}},
{"data":{"name":"gLMR"},"mark":{"type":"text","align":"right","baseline":"middle","dx":-6,"font":"DejaVu Sans Mono","fontSize":7.8},"encoding":{"y":{"field":"g","type":"quantitative","scale":{"domain":[-26.408,30.634],"nice":false,"zero":false},"axis":null},"x":{"datum":2,"type":"quantitative","scale":{"domain":[1.68831,3.06494],"nice":false,"zero":false},"axis":null},"text":{"condition":{"test":"datum.g == 0","value":"0.000"},"field":"g","type":"quantitative","format":".4r"},"color":{"condition":{"test":"datum.g == 0","value":"#24308f"},"value":"#6e6e6e"}}},
{"data":{"name":"lmR"},"mark":{"type":"line","color":"#7b7be3","strokeWidth":1.1,"clip":true},"encoding":{"x":{"field":"f","type":"quantitative","scale":{"domain":[1.68831,3.06494],"nice":false,"zero":false},"axis":null},"y":{"field":"v","type":"quantitative","scale":{"domain":[-26.408,30.634],"nice":false,"zero":false},"axis":null}}},
{"data":{"name":"lmRm"},"transform":[{"filter":"datum.m < 3"}],"mark":{"type":"point","shape":"triangle-up","filled":false,"color":"#2a36a0","size":28,"strokeWidth":0.9,"yOffset":4.5,"clip":true},"encoding":{"x":{"field":"f","type":"quantitative","scale":{"domain":[1.68831,3.06494],"nice":false,"zero":false},"axis":null},"y":{"field":"v","type":"quantitative","scale":{"domain":[-26.408,30.634],"nice":false,"zero":false},"axis":null}}},
{"data":{"name":"lmRm"},"transform":[{"filter":"datum.m < 3"}],"mark":{"type":"text","font":"DejaVu Sans Mono","fontSize":7.5,"color":"#2a36a0","dy":12,"clip":true},"encoding":{"x":{"field":"f","type":"quantitative","scale":{"domain":[1.68831,3.06494],"nice":false,"zero":false},"axis":null},"y":{"field":"v","type":"quantitative","scale":{"domain":[-26.408,30.634],"nice":false,"zero":false},"axis":null},"text":{"field":"m","type":"nominal"}}},
{"data":{"name":"lmRm"},"transform":[{"filter":"datum.m == 3"}],"mark":{"type":"point","shape":"triangle-down","filled":false,"color":"#2a36a0","size":28,"strokeWidth":0.9,"yOffset":-4.5,"clip":true},"encoding":{"x":{"field":"f","type":"quantitative","scale":{"domain":[1.68831,3.06494],"nice":false,"zero":false},"axis":null},"y":{"field":"v","type":"quantitative","scale":{"domain":[-26.408,30.634],"nice":false,"zero":false},"axis":null}}},
{"data":{"name":"lmRm"},"transform":[{"filter":"datum.m == 3"}],"mark":{"type":"text","font":"DejaVu Sans Mono","fontSize":7.5,"color":"#2a36a0","dy":-12,"clip":true},"encoding":{"x":{"field":"f","type":"quantitative","scale":{"domain":[1.68831,3.06494],"nice":false,"zero":false},"axis":null},"y":{"field":"v","type":"quantitative","scale":{"domain":[-26.408,30.634],"nice":false,"zero":false},"axis":null},"text":{"field":"m","type":"nominal"}}},
{"data":{"name":"lmRm"},"mark":{"type":"point","shape":"triangle-up","size":18,"stroke":"#2a36a0","strokeWidth":0.8,"filled":true,"clip":true},"encoding":{"x":{"field":"f","type":"quantitative","scale":{"domain":[1.68831,3.06494],"nice":false,"zero":false},"axis":null},"y":{"datum":-25.704,"type":"quantitative","scale":{"domain":[-26.408,30.634],"nice":false,"zero":false},"axis":null},"fill":{"condition":{"test":"datum.m == 3","value":"#2a36a0"},"value":"#ffffff"}}},
{"data":{"name":"one"},"mark":{"type":"point","shape":"triangle-right","filled":true,"color":"#24308f","size":22,"xOffset":-3,"clip":true},"encoding":{"x":{"datum":2,"type":"quantitative","scale":{"domain":[1.68831,3.06494],"nice":false,"zero":false},"axis":null},"y":{"datum":0,"type":"quantitative","scale":{"domain":[-26.408,30.634],"nice":false,"zero":false},"axis":null}}},
{"data":{"name":"one"},"mark":{"type":"point","shape":"triangle-left","filled":true,"color":"#24308f","size":22,"xOffset":3,"clip":true},"encoding":{"x":{"datum":3,"type":"quantitative","scale":{"domain":[1.68831,3.06494],"nice":false,"zero":false},"axis":null},"y":{"datum":0,"type":"quantitative","scale":{"domain":[-26.408,30.634],"nice":false,"zero":false},"axis":null}}},
{"data":{"name":"one"},"mark":{"type":"rect","color":"#1f2c8c"},"encoding":{"x":{"datum":1.71429,"type":"quantitative","scale":{"domain":[1.68831,3.06494],"nice":false,"zero":false},"axis":null},"x2":{"datum":1.7987},"y":{"datum":26.232,"type":"quantitative","scale":{"domain":[-26.408,30.634],"nice":false,"zero":false},"axis":null},"y2":{"datum":29.401}}},
{"data":{"name":"one"},"mark":{"type":"point","shape":"triangle-right","filled":true,"color":"#1f2c8c","size":14,"clip":true},"encoding":{"x":{"datum":1.7013,"type":"quantitative","scale":{"domain":[1.68831,3.06494],"nice":false,"zero":false},"axis":null},"y":{"datum":27.817,"type":"quantitative","scale":{"domain":[-26.408,30.634],"nice":false,"zero":false},"axis":null}}},
{"data":{"name":"one"},"mark":{"type":"text","text":"Tr1","align":"left","baseline":"middle","font":"DejaVu Sans Mono","fontSize":7.8,"color":"#ffffff","clip":true},"encoding":{"x":{"datum":1.72078,"type":"quantitative","scale":{"domain":[1.68831,3.06494],"nice":false,"zero":false},"axis":null},"y":{"datum":27.817,"type":"quantitative","scale":{"domain":[-26.408,30.634],"nice":false,"zero":false},"axis":null}}},
{"data":{"name":"one"},"mark":{"type":"text","text":"S11 Log Mag 5.000dB/ Ref 0.000dB [F1 M]","align":"left","baseline":"middle","font":"DejaVu Sans Mono","fontSize":7.8,"color":"#24308f","clip":true},"encoding":{"x":{"datum":1.84286,"type":"quantitative","scale":{"domain":[1.68831,3.06494],"nice":false,"zero":false},"axis":null},"y":{"datum":27.817,"type":"quantitative","scale":{"domain":[-26.408,30.634],"nice":false,"zero":false},"axis":null}}},
{"data":{"name":"one"},"mark":{"type":"text","text":["\u00a01\u00a0\u00a02.4000000\u00a0GHz\u00a0\u00a0-7.2715\u00a0dB","\u00a02\u00a0\u00a02.4400000\u00a0GHz\u00a0\u00a0-10.820\u00a0dB",">3\u00a0\u00a02.4800000\u00a0GHz\u00a0\u00a0-9.4131\u00a0dB"],"align":"left","baseline":"top","lineHeight":8,"font":"DejaVu Sans Mono","fontSize":7.8,"color":"#7a80e6","clip":true},"encoding":{"x":{"datum":2.0377,"type":"quantitative","scale":{"domain":[1.68831,3.06494],"nice":false,"zero":false},"axis":null},"y":{"datum":23.063,"type":"quantitative","scale":{"domain":[-26.408,30.634],"nice":false,"zero":false},"axis":null}}}
]},
{"width":2,"height":162,"view":{"fill":"#4a4a4a"},"data":{"name":"one"},"mark":{"type":"rect","color":"#4a4a4a"}},
{"width":205,"height":162,"view":{"fill":"#f3f3f3","stroke":"#5e5e5e","strokeWidth":1},
"layer":[
{"data":{"name":"one"},"mark":{"type":"rect","fill":"#ffffff","stroke":"#9c9c9c","strokeWidth":0.8},"encoding":{"x":{"datum":2,"type":"quantitative","scale":{"domain":[1.69935,3.03922],"nice":false,"zero":false},"axis":null},"x2":{"datum":3},"y":{"datum":1,"type":"quantitative","scale":{"domain":[-0.40845,56.634],"nice":false,"zero":false},"axis":null},"y2":{"datum":51}}},
{"data":{"name":"fgrid"},"mark":{"type":"rule","color":"#d0d0d0","strokeWidth":0.7},"encoding":{"x":{"field":"f","type":"quantitative","scale":{"domain":[1.69935,3.03922],"nice":false,"zero":false},"axis":null},"y":{"datum":1,"type":"quantitative","scale":{"domain":[-0.40845,56.634],"nice":false,"zero":false},"axis":null},"y2":{"datum":51}}},
{"data":{"name":"gSWR"},"mark":{"type":"rule","color":"#d0d0d0","strokeWidth":0.7},"encoding":{"y":{"field":"g","type":"quantitative","scale":{"domain":[-0.40845,56.634],"nice":false,"zero":false},"axis":null},"x":{"datum":2,"type":"quantitative","scale":{"domain":[1.69935,3.03922],"nice":false,"zero":false},"axis":null},"x2":{"datum":3}}},
{"data":{"name":"gSWR"},"mark":{"type":"text","align":"right","baseline":"middle","dx":-6,"font":"DejaVu Sans Mono","fontSize":7.8},"encoding":{"y":{"field":"g","type":"quantitative","scale":{"domain":[-0.40845,56.634],"nice":false,"zero":false},"axis":null},"x":{"datum":2,"type":"quantitative","scale":{"domain":[1.69935,3.03922],"nice":false,"zero":false},"axis":null},"text":{"field":"g","type":"quantitative","format":".4r"},"color":{"condition":{"test":"datum.g == 1","value":"#24308f"},"value":"#6e6e6e"}}},
{"data":{"name":"swR"},"mark":{"type":"line","color":"#7b7be3","strokeWidth":1.1,"clip":true},"encoding":{"x":{"field":"f","type":"quantitative","scale":{"domain":[1.69935,3.03922],"nice":false,"zero":false},"axis":null},"y":{"field":"v","type":"quantitative","scale":{"domain":[-0.40845,56.634],"nice":false,"zero":false},"axis":null}}},
{"data":{"name":"swRm"},"transform":[{"filter":"datum.m < 3"}],"mark":{"type":"point","shape":"triangle-up","filled":false,"color":"#2a36a0","size":28,"strokeWidth":0.9,"yOffset":4.5,"clip":true},"encoding":{"x":{"field":"f","type":"quantitative","scale":{"domain":[1.69935,3.03922],"nice":false,"zero":false},"axis":null},"y":{"field":"v","type":"quantitative","scale":{"domain":[-0.40845,56.634],"nice":false,"zero":false},"axis":null}}},
{"data":{"name":"swRm"},"transform":[{"filter":"datum.m < 3"}],"mark":{"type":"text","font":"DejaVu Sans Mono","fontSize":7.5,"color":"#2a36a0","dy":12,"clip":true},"encoding":{"x":{"field":"f","type":"quantitative","scale":{"domain":[1.69935,3.03922],"nice":false,"zero":false},"axis":null},"y":{"field":"v","type":"quantitative","scale":{"domain":[-0.40845,56.634],"nice":false,"zero":false},"axis":null},"text":{"field":"m","type":"nominal"}}},
{"data":{"name":"swRm"},"transform":[{"filter":"datum.m == 3"}],"mark":{"type":"point","shape":"triangle-down","filled":false,"color":"#2a36a0","size":28,"strokeWidth":0.9,"yOffset":-4.5,"clip":true},"encoding":{"x":{"field":"f","type":"quantitative","scale":{"domain":[1.69935,3.03922],"nice":false,"zero":false},"axis":null},"y":{"field":"v","type":"quantitative","scale":{"domain":[-0.40845,56.634],"nice":false,"zero":false},"axis":null}}},
{"data":{"name":"swRm"},"transform":[{"filter":"datum.m == 3"}],"mark":{"type":"text","font":"DejaVu Sans Mono","fontSize":7.5,"color":"#2a36a0","dy":-12,"clip":true},"encoding":{"x":{"field":"f","type":"quantitative","scale":{"domain":[1.69935,3.03922],"nice":false,"zero":false},"axis":null},"y":{"field":"v","type":"quantitative","scale":{"domain":[-0.40845,56.634],"nice":false,"zero":false},"axis":null},"text":{"field":"m","type":"nominal"}}},
{"data":{"name":"swRm"},"mark":{"type":"point","shape":"triangle-up","size":18,"stroke":"#2a36a0","strokeWidth":0.8,"filled":true,"clip":true},"encoding":{"x":{"field":"f","type":"quantitative","scale":{"domain":[1.69935,3.03922],"nice":false,"zero":false},"axis":null},"y":{"datum":0.2958,"type":"quantitative","scale":{"domain":[-0.40845,56.634],"nice":false,"zero":false},"axis":null},"fill":{"condition":{"test":"datum.m == 3","value":"#2a36a0"},"value":"#ffffff"}}},
{"data":{"name":"one"},"mark":{"type":"point","shape":"triangle-right","filled":true,"color":"#24308f","size":22,"xOffset":-3,"clip":true},"encoding":{"x":{"datum":2,"type":"quantitative","scale":{"domain":[1.69935,3.03922],"nice":false,"zero":false},"axis":null},"y":{"datum":1,"type":"quantitative","scale":{"domain":[-0.40845,56.634],"nice":false,"zero":false},"axis":null}}},
{"data":{"name":"one"},"mark":{"type":"point","shape":"triangle-left","filled":true,"color":"#24308f","size":22,"xOffset":3,"clip":true},"encoding":{"x":{"datum":3,"type":"quantitative","scale":{"domain":[1.69935,3.03922],"nice":false,"zero":false},"axis":null},"y":{"datum":1,"type":"quantitative","scale":{"domain":[-0.40845,56.634],"nice":false,"zero":false},"axis":null}}},
{"data":{"name":"one"},"mark":{"type":"text","text":"1","align":"left","baseline":"middle","font":"DejaVu Sans Mono","fontSize":7.5,"color":"#2a36a0","dx":1.5,"clip":true},"encoding":{"x":{"datum":3,"type":"quantitative","scale":{"domain":[1.69935,3.03922],"nice":false,"zero":false},"axis":null},"y":{"datum":21.2,"type":"quantitative","scale":{"domain":[-0.40845,56.634],"nice":false,"zero":false},"axis":null}}},
{"data":{"name":"one"},"mark":{"type":"text","text":"Tr1 S11 SWR 5.000/ Ref 1.000 [F1 M]","align":"left","baseline":"middle","font":"DejaVu Sans Mono","fontSize":7.8,"color":"#24308f","clip":true},"encoding":{"x":{"datum":1.75817,"type":"quantitative","scale":{"domain":[1.69935,3.03922],"nice":false,"zero":false},"axis":null},"y":{"datum":53.817,"type":"quantitative","scale":{"domain":[-0.40845,56.634],"nice":false,"zero":false},"axis":null}}},
{"data":{"name":"one"},"mark":{"type":"text","text":["\u00a01\u00a0\u00a02.4000000\u00a0GHz\u00a0\u00a0\u00a02.5316","\u00a02\u00a0\u00a02.4400000\u00a0GHz\u00a0\u00a0\u00a01.8100",">3\u00a0\u00a02.4800000\u00a0GHz\u00a0\u00a0\u00a02.0150"],"align":"left","baseline":"top","lineHeight":8,"font":"DejaVu Sans Mono","fontSize":7.8,"color":"#7a80e6","clip":true},"encoding":{"x":{"datum":2.0033,"type":"quantitative","scale":{"domain":[1.69935,3.03922],"nice":false,"zero":false},"axis":null},"y":{"datum":49.063,"type":"quantitative","scale":{"domain":[-0.40845,56.634],"nice":false,"zero":false},"axis":null}}}
]}
]},
{"spacing":0,"hconcat":[
{"width":212,"height":9,"view":{"fill":"#3c3c3c"},"data":{"name":"one"},"layer":[
{"mark":{"type":"rect","color":"#2337c8"},"encoding":{"x":{"datum":0.778,"type":"quantitative","scale":{"domain":[0,1],"nice":false,"zero":false},"axis":null},"x2":{"datum":0.849}}},
{"mark":{"type":"rect","color":"#2337c8"},"encoding":{"x":{"datum":0.863,"type":"quantitative","scale":{"domain":[0,1],"nice":false,"zero":false},"axis":null},"x2":{"datum":0.925}}},
{"mark":{"type":"rect","color":"#6a6a6a"},"encoding":{"x":{"datum":0.955,"type":"quantitative","scale":{"domain":[0,1],"nice":false,"zero":false},"axis":null},"x2":{"datum":1}}},
{"mark":{"type":"text","text":"1\u00a0\u00a0Start 2 GHz","align":"left","font":"Liberation Sans","fontSize":7,"color":"#e8e8e8"},"encoding":{"x":{"datum":0.01,"type":"quantitative","scale":{"domain":[0,1],"nice":false,"zero":false},"axis":null}}},
{"mark":{"type":"text","text":"IFBW 70 kHz","align":"left","font":"Liberation Sans","fontSize":7,"color":"#e8e8e8"},"encoding":{"x":{"datum":0.283,"type":"quantitative","scale":{"domain":[0,1],"nice":false,"zero":false},"axis":null}}},
{"mark":{"type":"text","text":"Stop 3 GHz","align":"left","font":"Liberation Sans","fontSize":7,"color":"#e8e8e8"},"encoding":{"x":{"datum":0.57,"type":"quantitative","scale":{"domain":[0,1],"nice":false,"zero":false},"axis":null}}},
{"mark":{"type":"text","text":"PExt","align":"center","font":"Liberation Sans","fontSize":7,"color":"#ffffff"},"encoding":{"x":{"datum":0.814,"type":"quantitative","scale":{"domain":[0,1],"nice":false,"zero":false},"axis":null}}},
{"mark":{"type":"text","text":"Cor","align":"center","font":"Liberation Sans","fontSize":7,"color":"#ffffff"},"encoding":{"x":{"datum":0.894,"type":"quantitative","scale":{"domain":[0,1],"nice":false,"zero":false},"axis":null}}},
{"mark":{"type":"text","text":"!","align":"center","font":"Liberation Sans","fontSize":7,"color":"#ffffff"},"encoding":{"x":{"datum":0.977,"type":"quantitative","scale":{"domain":[0,1],"nice":false,"zero":false},"axis":null}}}
]},
{"width":2,"height":9,"view":{"fill":"#4a4a4a"},"data":{"name":"one"},"mark":{"type":"rect","color":"#4a4a4a"}},
{"width":205,"height":9,"view":{"fill":"#3c3c3c"},"data":{"name":"one"},"layer":[
{"mark":{"type":"rect","color":"#2337c8"},"encoding":{"x":{"datum":0.8,"type":"quantitative","scale":{"domain":[0,1],"nice":false,"zero":false},"axis":null},"x2":{"datum":0.868}}},
{"mark":{"type":"rect","color":"#2337c8"},"encoding":{"x":{"datum":0.898,"type":"quantitative","scale":{"domain":[0,1],"nice":false,"zero":false},"axis":null},"x2":{"datum":0.966}}},
{"mark":{"type":"rect","color":"#6a6a6a"},"encoding":{"x":{"datum":0.98,"type":"quantitative","scale":{"domain":[0,1],"nice":false,"zero":false},"axis":null},"x2":{"datum":1}}},
{"mark":{"type":"text","text":"2\u00a0\u00a0Start 2 GHz","align":"left","font":"Liberation Sans","fontSize":7,"color":"#e8e8e8"},"encoding":{"x":{"datum":0.01,"type":"quantitative","scale":{"domain":[0,1],"nice":false,"zero":false},"axis":null}}},
{"mark":{"type":"text","text":"IFBW 70 kHz","align":"left","font":"Liberation Sans","fontSize":7,"color":"#e8e8e8"},"encoding":{"x":{"datum":0.283,"type":"quantitative","scale":{"domain":[0,1],"nice":false,"zero":false},"axis":null}}},
{"mark":{"type":"text","text":"Stop 3 GHz","align":"left","font":"Liberation Sans","fontSize":7,"color":"#e8e8e8"},"encoding":{"x":{"datum":0.575,"type":"quantitative","scale":{"domain":[0,1],"nice":false,"zero":false},"axis":null}}},
{"mark":{"type":"text","text":"PExt","align":"center","font":"Liberation Sans","fontSize":7,"color":"#ffffff"},"encoding":{"x":{"datum":0.834,"type":"quantitative","scale":{"domain":[0,1],"nice":false,"zero":false},"axis":null}}},
{"mark":{"type":"text","text":"Cor","align":"center","font":"Liberation Sans","fontSize":7,"color":"#ffffff"},"encoding":{"x":{"datum":0.932,"type":"quantitative","scale":{"domain":[0,1],"nice":false,"zero":false},"axis":null}}}
]}
]},
{"width":419,"height":2,"view":{"fill":"#4a4a4a"},"data":{"name":"one"},"mark":{"type":"rect","color":"#4a4a4a"}},
{"width":419,"height":166,"view":{"fill":"#f7f7f7","stroke":"#5e5e5e","strokeWidth":1},
"resolve":{"scale":{"x":"independent"}},
"layer":[
{"data":{"name":"smithGrid"},"transform":[{"filter":"datum.cx != 0"}],"mark":{"type":"arc","filled":false,"stroke":"#cbcbcb","strokeWidth":0.7,"clip":true},"encoding":{"x":{"field":"cx","type":"quantitative","scale":{"domain":[-3.0956,3.0662],"nice":false,"zero":false},"axis":null},"y":{"field":"cy","type":"quantitative","scale":{"domain":[-1.1103,1.3309],"nice":false,"zero":false},"axis":null},"theta":{"field":"t0","type":"quantitative","scale":null,"stack":null},"theta2":{"field":"t1"},"radius":{"field":"R","type":"quantitative","scale":{"type":"linear","domain":[0,1],"range":[0,68],"zero":true}},"radius2":{"field":"R"}}},
{"data":{"name":"smithGrid"},"transform":[{"filter":"datum.cx == 0"}],"mark":{"type":"arc","filled":false,"stroke":"#8a8a8a","strokeWidth":0.9,"clip":true},"encoding":{"x":{"field":"cx","type":"quantitative","scale":{"domain":[-3.0956,3.0662],"nice":false,"zero":false},"axis":null},"y":{"field":"cy","type":"quantitative","scale":{"domain":[-1.1103,1.3309],"nice":false,"zero":false},"axis":null},"theta":{"field":"t0","type":"quantitative","scale":null,"stack":null},"theta2":{"field":"t1"},"radius":{"field":"R","type":"quantitative","scale":{"type":"linear","domain":[0,1],"range":[0,68],"zero":true}},"radius2":{"field":"R"}}},
{"data":{"name":"one"},"mark":{"type":"rule","color":"#8a8a8a","strokeWidth":0.9},"encoding":{"x":{"datum":-1,"type":"quantitative","scale":{"domain":[-3.0956,3.0662],"nice":false,"zero":false},"axis":null},"x2":{"datum":1},"y":{"datum":0,"type":"quantitative","scale":{"domain":[-1.1103,1.3309],"nice":false,"zero":false},"axis":null}}},
{"data":{"name":"smR"},"mark":{"type":"line","color":"#7373e0","strokeWidth":1,"clip":true},"encoding":{"x":{"field":"re","type":"quantitative","scale":{"domain":[-3.0956,3.0662],"nice":false,"zero":false},"axis":null},"y":{"field":"im","type":"quantitative","scale":{"domain":[-1.1103,1.3309],"nice":false,"zero":false},"axis":null},"order":{"field":"f","type":"quantitative"}}},
{"data":{"name":"smRm"},"transform":[{"filter":"datum.m < 3"}],"mark":{"type":"point","shape":"triangle-up","filled":false,"color":"#2a36a0","size":28,"strokeWidth":0.9,"yOffset":4.5,"clip":true},"encoding":{"x":{"field":"re","type":"quantitative","scale":{"domain":[-3.0956,3.0662],"nice":false,"zero":false},"axis":null},"y":{"field":"im","type":"quantitative","scale":{"domain":[-1.1103,1.3309],"nice":false,"zero":false},"axis":null}}},
{"data":{"name":"smRm"},"transform":[{"filter":"datum.m < 3"}],"mark":{"type":"text","font":"DejaVu Sans Mono","fontSize":7.5,"color":"#2a36a0","dy":12,"clip":true},"encoding":{"x":{"field":"re","type":"quantitative","scale":{"domain":[-3.0956,3.0662],"nice":false,"zero":false},"axis":null},"y":{"field":"im","type":"quantitative","scale":{"domain":[-1.1103,1.3309],"nice":false,"zero":false},"axis":null},"text":{"field":"m","type":"nominal"}}},
{"data":{"name":"smRm"},"transform":[{"filter":"datum.m == 3"}],"mark":{"type":"point","shape":"triangle-down","filled":false,"color":"#2a36a0","size":28,"strokeWidth":0.9,"yOffset":-4.5,"clip":true},"encoding":{"x":{"field":"re","type":"quantitative","scale":{"domain":[-3.0956,3.0662],"nice":false,"zero":false},"axis":null},"y":{"field":"im","type":"quantitative","scale":{"domain":[-1.1103,1.3309],"nice":false,"zero":false},"axis":null}}},
{"data":{"name":"smRm"},"transform":[{"filter":"datum.m == 3"}],"mark":{"type":"text","font":"DejaVu Sans Mono","fontSize":7.5,"color":"#2a36a0","dy":-12,"clip":true},"encoding":{"x":{"field":"re","type":"quantitative","scale":{"domain":[-3.0956,3.0662],"nice":false,"zero":false},"axis":null},"y":{"field":"im","type":"quantitative","scale":{"domain":[-1.1103,1.3309],"nice":false,"zero":false},"axis":null},"text":{"field":"m","type":"nominal"}}},
{"data":{"name":"smRm"},"mark":{"type":"point","shape":"triangle-up","size":20,"stroke":"#2a36a0","strokeWidth":0.8,"filled":true,"clip":true},"encoding":{"x":{"field":"f","type":"quantitative","scale":{"domain":[1.9653,3.0261],"nice":false,"zero":false},"axis":null},"y":{"datum":-1.051,"type":"quantitative","scale":{"domain":[-1.1103,1.3309],"nice":false,"zero":false},"axis":null},"fill":{"condition":{"test":"datum.m == 3","value":"#2a36a0"},"value":"#ffffff"}}},
{"data":{"name":"one"},"mark":{"type":"text","text":"Tr1 S11 Smith (R+jX) Scale 1.000U [F1 M]","align":"left","baseline":"middle","font":"DejaVu Sans Mono","fontSize":7.8,"color":"#24308f","clip":true},"encoding":{"x":{"datum":-2.9235,"type":"quantitative","scale":{"domain":[-3.0956,3.0662],"nice":false,"zero":false},"axis":null},"y":{"datum":1.154,"type":"quantitative","scale":{"domain":[-1.1103,1.3309],"nice":false,"zero":false},"axis":null}}},
{"data":{"name":"one"},"mark":{"type":"text","text":["\u00a01\u00a0\u00a02.4000000\u00a0GHz\u00a0\u00a020.225\u00a0Ω\u00a0\u00a05.9770\u00a0Ω\u00a0\u00a0396.38\u00a0pH","\u00a02\u00a0\u00a02.4400000\u00a0GHz\u00a0\u00a027.727\u00a0Ω\u00a0-146.18\u00a0mΩ\u00a0446.21\u00a0pF",">3\u00a0\u00a02.4800000\u00a0GHz\u00a0\u00a027.995\u00a0Ω\u00a0-15.627\u00a0Ω\u00a0\u00a04.1068\u00a0pF"],"align":"left","baseline":"top","lineHeight":8,"font":"DejaVu Sans Mono","fontSize":7.8,"color":"#7a80e6","clip":true},"encoding":{"x":{"datum":-2.897,"type":"quantitative","scale":{"domain":[-3.0956,3.0662],"nice":false,"zero":false},"axis":null},"y":{"datum":1.0294,"type":"quantitative","scale":{"domain":[-1.1103,1.3309],"nice":false,"zero":false},"axis":null}}}
]},
{"width":419,"height":12,"view":{"fill":"#3c3c3c"},"data":{"name":"one"},"layer":[
{"mark":{"type":"rect","color":"#2337c8"},"encoding":{"x":{"datum":0.9,"type":"quantitative","scale":{"domain":[0,1],"nice":false,"zero":false},"axis":null},"x2":{"datum":0.936}}},
{"mark":{"type":"rect","color":"#2337c8"},"encoding":{"x":{"datum":0.943,"type":"quantitative","scale":{"domain":[0,1],"nice":false,"zero":false},"axis":null},"x2":{"datum":0.976}}},
{"mark":{"type":"rect","color":"#6a6a6a"},"encoding":{"x":{"datum":0.986,"type":"quantitative","scale":{"domain":[0,1],"nice":false,"zero":false},"axis":null},"x2":{"datum":1}}},
{"mark":{"type":"text","text":"3\u00a0\u00a0Start 2 GHz","align":"left","font":"Liberation Sans","fontSize":7,"color":"#e8e8e8"},"encoding":{"x":{"datum":0.012,"type":"quantitative","scale":{"domain":[0,1],"nice":false,"zero":false},"axis":null}}},
{"mark":{"type":"text","text":"IFBW 70 kHz","align":"left","font":"Liberation Sans","fontSize":7,"color":"#e8e8e8"},"encoding":{"x":{"datum":0.406,"type":"quantitative","scale":{"domain":[0,1],"nice":false,"zero":false},"axis":null}}},
{"mark":{"type":"text","text":"Stop 3 GHz","align":"left","font":"Liberation Sans","fontSize":7,"color":"#e8e8e8"},"encoding":{"x":{"datum":0.787,"type":"quantitative","scale":{"domain":[0,1],"nice":false,"zero":false},"axis":null}}},
{"mark":{"type":"text","text":"PExt","align":"center","font":"Liberation Sans","fontSize":7,"color":"#ffffff"},"encoding":{"x":{"datum":0.918,"type":"quantitative","scale":{"domain":[0,1],"nice":false,"zero":false},"axis":null}}},
{"mark":{"type":"text","text":"Cor","align":"center","font":"Liberation Sans","fontSize":7,"color":"#ffffff"},"encoding":{"x":{"datum":0.9595,"type":"quantitative","scale":{"domain":[0,1],"nice":false,"zero":false},"axis":null}}}
]}
]},
{"width":7,"height":1,"data":{"name":"one"},"mark":{"type":"rect","opacity":0}}
]}
]}
]}
]
}
